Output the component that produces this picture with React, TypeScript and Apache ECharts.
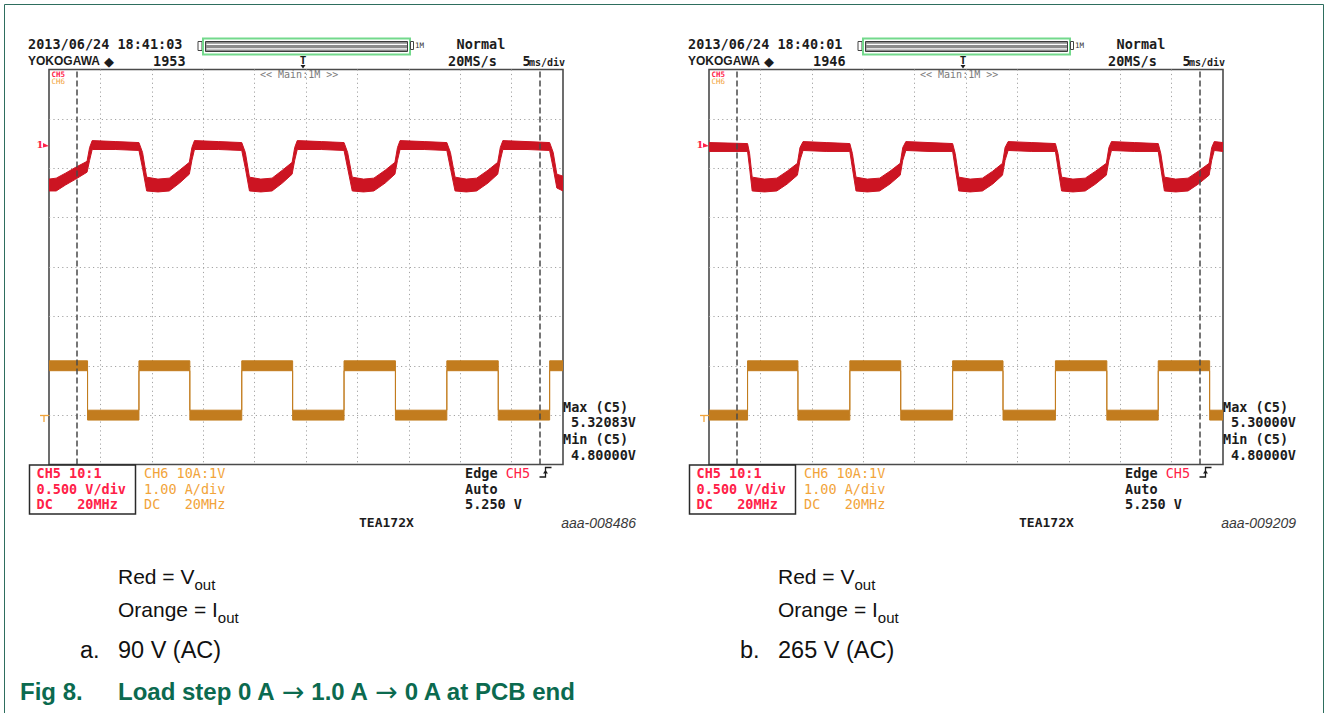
import React, { useEffect, useRef } from "react";
import * as echarts from "echarts";

// ---------------- data ----------------
// time base: 5 ms/div, 10 div
const timeRange = [0, 50];
const timeDiv = 5;
// CH6 (orange, Iout): 1 A/div ; CH5 (red, Vout): 0.5 V/div
const currentRange = [-1, 7];
const currentDiv = 1;
const voltageRange = [2, 6];

// cursor positions (ms)
const cursorTimes = [2.7, 47.75];

// Iout centre line [t ms, A]  (scope a: 90 V AC)
const ioutA = [
  [0, 1.0], [3.75, 1.0], [3.75, 0], [8.75, 0], [8.75, 1.0], [13.7, 1.0], [13.7, 0],
  [18.75, 0], [18.75, 1.0], [23.7, 1.0], [23.7, 0], [28.7, 0], [28.7, 1.0], [33.7, 1.0],
  [33.7, 0], [38.7, 0], [38.7, 1.0], [43.7, 1.0], [43.7, 0], [48.7, 0], [48.7, 1.0], [50, 1.0],
];
// Iout centre line [t ms, A]  (scope b: 265 V AC)
const ioutB = [
  [0, 0], [3.75, 0], [3.75, 1.0], [8.65, 1.0], [8.65, 0], [13.7, 0], [13.7, 1.0],
  [18.65, 1.0], [18.65, 0], [23.7, 0], [23.7, 1.0], [28.6, 1.0], [28.6, 0], [33.7, 0],
  [33.7, 1.0], [38.7, 1.0], [38.7, 0], [43.7, 0], [43.7, 1.0], [48.7, 1.0], [48.7, 0], [50, 0],
];
// noise half-band of the current trace (A)
const ioutNoise = 0.1;

// Vout envelope [t ms, lower V, upper V]  (scope a)
const voutA = [
  [0.0, 4.77, 4.89], [0.7, 4.77, 4.9], [1.6, 4.83, 4.95], [2.6, 4.89, 5.01], [3.7, 4.96, 5.07],
  [3.95, 5.08, 5.21], [4.2, 5.19, 5.28], [6.5, 5.19, 5.27], [8.75, 5.18, 5.26],
  [9.1, 5.0, 5.16], [9.5, 4.77, 4.91], [10.6, 4.76, 4.89], [11.7, 4.77, 4.9], [12.7, 4.85, 4.98],
  [13.65, 4.94, 5.06], [13.9, 5.08, 5.21], [14.15, 5.19, 5.28], [16.5, 5.19, 5.27], [18.75, 5.18, 5.26],
  [19.1, 5.0, 5.16], [19.5, 4.77, 4.91], [20.6, 4.76, 4.89], [21.7, 4.77, 4.9], [22.7, 4.85, 4.98],
  [23.65, 4.94, 5.06], [23.9, 5.08, 5.21], [24.15, 5.19, 5.28], [26.5, 5.19, 5.27], [28.7, 5.18, 5.26],
  [29.05, 5.0, 5.16], [29.5, 4.77, 4.91], [30.6, 4.76, 4.89], [31.6, 4.77, 4.9], [32.7, 4.85, 4.98],
  [33.65, 4.94, 5.06], [33.9, 5.08, 5.21], [34.15, 5.19, 5.28], [36.5, 5.19, 5.27], [38.7, 5.18, 5.26],
  [39.05, 5.0, 5.16], [39.5, 4.77, 4.91], [40.6, 4.76, 4.89], [41.6, 4.77, 4.9], [42.7, 4.85, 4.98],
  [43.65, 4.94, 5.06], [43.9, 5.08, 5.21], [44.15, 5.19, 5.28], [46.5, 5.19, 5.27], [48.7, 5.18, 5.26],
  [49.05, 5.0, 5.16], [49.4, 4.8, 4.94], [50.0, 4.77, 4.92],
];
// Vout envelope [t ms, lower V, upper V]  (scope b)
const voutB = [
  [0.0, 5.17, 5.26], [3.75, 5.17, 5.25], [3.95, 5.0, 5.15], [4.2, 4.77, 4.91], [5.4, 4.76, 4.89],
  [6.6, 4.77, 4.9], [7.6, 4.84, 4.97], [8.6, 4.93, 5.05], [8.85, 5.08, 5.21], [9.15, 5.18, 5.27],
  [11.4, 5.17, 5.26], [13.7, 5.17, 5.25], [13.95, 5.0, 5.15], [14.3, 4.77, 4.91], [15.4, 4.76, 4.89],
  [16.6, 4.77, 4.9], [17.6, 4.84, 4.97], [18.6, 4.93, 5.05], [18.85, 5.08, 5.21], [19.15, 5.18, 5.27],
  [21.4, 5.17, 5.26], [23.7, 5.17, 5.25], [23.95, 5.0, 5.15], [24.3, 4.77, 4.91], [25.4, 4.76, 4.89],
  [26.6, 4.77, 4.9], [27.6, 4.84, 4.97], [28.55, 4.93, 5.05], [28.8, 5.08, 5.21], [29.1, 5.18, 5.27],
  [31.4, 5.17, 5.26], [33.7, 5.17, 5.25], [33.95, 5.0, 5.15], [34.3, 4.77, 4.91], [35.4, 4.76, 4.89],
  [36.6, 4.77, 4.9], [37.6, 4.84, 4.97], [38.65, 4.93, 5.05], [38.9, 5.08, 5.21], [39.15, 5.18, 5.27],
  [41.4, 5.17, 5.26], [43.7, 5.17, 5.25], [43.95, 5.0, 5.15], [44.3, 4.77, 4.91], [45.4, 4.76, 4.89],
  [46.6, 4.77, 4.9], [47.6, 4.84, 4.97], [48.65, 4.93, 5.05], [48.9, 5.08, 5.21], [49.15, 5.18, 5.27],
  [50.0, 5.17, 5.26],
];

// scope texts
const timestamps = ["2013/06/24 18:41:03", "2013/06/24 18:40:01"];
const acqCounts = ["1953", "1946"];
const maxReadings = ["5.32083V", "5.30000V"];
const minReadings = ["4.80000V", "4.80000V"];
const figureIds = ["aaa-008486", "aaa-009209"];
const conditionLetters = ["a.", "b."];
const conditions = ["90 V (AC)", "265 V (AC)"];
const figNumber = "Fig 8.";
const figTitleParts = ["Load step 0 A ", "\u2192", " 1.0 A ", "\u2192", " 0 A at PCB end"];

// ---------------- styling ----------------
const RED_TRACE = "#cc1422";
const ORANGE_TRACE = "#c27c1e";
const RED_TEXT = "#ff2148";
const ORANGE_TEXT = "#f2a43a";
const INK = "#1c1c1c";
const GREEN = "#0b6a4f";
const MONO = '"DejaVu Sans Mono", monospace';
const SANS = '"Liberation Sans", Arial, sans-serif';

const PLOTS = [
  { left: 49, top: 69.5, width: 514, height: 395 },
  { left: 709, top: 69.5, width: 514, height: 395 },
];

function txt(x: number, y: number, text: string, o: any = {}) {
  return {
    type: "text",
    x,
    y,
    z: 20,
    silent: true,
    style: {
      text,
      fill: o.fill || INK,
      fontFamily: o.family || MONO,
      fontSize: o.size || 13.5,
      fontWeight: o.weight || "bold",
      fontStyle: o.style || "normal",
      align: o.align || "left",
      textAlign: o.align || "left",
      verticalAlign: "middle",
      textVerticalAlign: "middle",
      rich: o.rich,
    },
  };
}

function line(x1: number, y1: number, x2: number, y2: number, stroke: string, w = 1) {
  return { type: "line", z: 20, silent: true, shape: { x1, y1, x2, y2 }, style: { stroke, lineWidth: w } };
}

function rect(x: number, y: number, width: number, height: number, style: any) {
  return { type: "rect", z: 20, silent: true, shape: { x, y, width, height }, style };
}

function scopeGraphics(s: number) {
  const dx = s * 660;
  const g: any[] = [];
  // header
  g.push(txt(28 + dx, 43.5, timestamps[s]));
  g.push(txt(28 + dx, 61, "YOKOGAWA", { family: SANS, size: 12 }));
  g.push(txt(104 + dx, 61, "\u25C6", { family: '"DejaVu Sans"', size: 13 }));
  g.push(txt(153 + dx, 61, acqCounts[s]));
  // record-length bar
  g.push(rect(198 + dx, 41.5, 4, 9, { fill: "#fff", stroke: "#444", lineWidth: 1 }));
  g.push(rect(203 + dx, 38.5, 207, 16, { fill: "#fff", stroke: "#73d98c", lineWidth: 2 }));
  g.push(rect(205.5 + dx, 41.5, 202, 10, { fill: "#8c8c8c", stroke: "#3c3c3c", lineWidth: 1 }));
  g.push(line(206.5 + dx, 44.3, 407 + dx, 44.3, "#ffffff", 1.3));
  g.push(line(206.5 + dx, 48.8, 407 + dx, 48.8, "#ffffff", 1.3));
  g.push(rect(410.5 + dx, 41.5, 3, 8, { fill: "#fff", stroke: "#444", lineWidth: 1 }));
  g.push(txt(415 + dx, 45.5, "1M", { size: 7.5, weight: "normal", fill: "#333" }));
  g.push(txt(456.5 + dx, 43.5, "Normal"));
  g.push(txt(448 + dx, 61, "20MS/s"));
  g.push(txt(522.5 + dx, 61, "5"));
  g.push(txt(529 + dx, 62, "ms/div", { size: 10 }));
  // trigger position marker
  g.push(txt(303 + dx, 60, "T", { size: 11, align: "center" }));
  g.push({ type: "polygon", z: 20, silent: true, shape: { points: [[300.5 + dx, 65], [305.5 + dx, 65], [303 + dx, 68.5]] }, style: { fill: INK } });
  g.push(txt(260 + dx, 74.5, "<< Main:1M >>", { size: 10, weight: "normal", fill: "#7a7a7a" }));
  // channel labels inside the screen
  g.push(txt(51.5 + dx, 74.5, "CH5", { size: 7.5, fill: RED_TEXT }));
  g.push(txt(51.5 + dx, 81, "CH6", { size: 7.5, fill: ORANGE_TEXT, weight: "normal" }));
  // CH5 position marker
  g.push(txt(36.5 + dx, 144.5, "1", { size: 10, fill: RED_TEXT, family: '"DejaVu Serif", serif' }));
  g.push({ type: "polygon", z: 20, silent: true, shape: { points: [[43 + dx, 143], [49 + dx, 146], [43 + dx, 147.5]] }, style: { fill: RED_TEXT } });
  // CH6 ground marker
  g.push(line(40 + dx, 415.5, 49 + dx, 415.5, ORANGE_TEXT, 1.3));
  g.push(line(44 + dx, 415.5, 44 + dx, 422, ORANGE_TEXT, 1.3));
  // channel setting boxes
  g.push(rect(29.5 + dx, 465, 106, 49, { fill: "none", stroke: "#2a2a2a", lineWidth: 1.5 }));
  g.push(txt(36.5 + dx, 473, "CH5 10:1", { fill: RED_TEXT }));
  g.push(txt(36.5 + dx, 488.5, "0.500 V/div", { fill: RED_TEXT }));
  g.push(txt(36.5 + dx, 504, "DC   20MHz", { fill: RED_TEXT }));
  g.push(txt(144 + dx, 473, "CH6 10A:1V", { fill: ORANGE_TEXT, weight: "normal" }));
  g.push(txt(144 + dx, 488.5, "1.00 A/div", { fill: ORANGE_TEXT, weight: "normal" }));
  g.push(txt(144 + dx, 504, "DC   20MHz", { fill: ORANGE_TEXT, weight: "normal" }));
  // measurements
  g.push(txt(563 + dx, 407, "Max (C5)"));
  g.push(txt(636 + dx, 422, maxReadings[s], { align: "right" }));
  g.push(txt(563 + dx, 439, "Min (C5)"));
  g.push(txt(636 + dx, 455, minReadings[s], { align: "right" }));
  // trigger
  g.push(txt(465 + dx, 472.5, "{k|Edge }{r|CH5}", {
    rich: {
      k: { fontFamily: MONO, fontSize: 13.5, fontWeight: "bold", fill: INK },
      r: { fontFamily: MONO, fontSize: 13.5, fontWeight: "normal", fill: RED_TEXT },
    },
  }));
  g.push({ type: "polyline", z: 20, silent: true, shape: { points: [[539.5 + dx, 477], [545.5 + dx, 477], [545.5 + dx, 467.5], [551.5 + dx, 467.5]] }, style: { stroke: INK, lineWidth: 1.3, fill: "none" } });
  g.push({ type: "polygon", z: 20, silent: true, shape: { points: [[543 + dx, 473.5], [548 + dx, 473.5], [545.5 + dx, 470]] }, style: { fill: INK } });
  g.push(txt(465 + dx, 488.5, "Auto"));
  g.push(txt(465 + dx, 504, "5.250 V"));
  g.push(txt(359 + dx, 522, "TEA172X", { size: 13 }));
  g.push(txt(636 + dx, 522.5, figureIds[s], { family: SANS, size: 14, weight: "normal", style: "italic", fill: "#3a3a3a", align: "right" }));
  // captions
  const cx = 118 + dx;
  const subRich = {
    b: { fontFamily: SANS, fontSize: 21, fill: "#111", lineHeight: 31, verticalAlign: "middle" },
    s: { fontFamily: SANS, fontSize: 15, fill: "#111", lineHeight: 31, verticalAlign: "bottom" },
  };
  g.push(txt(cx, 576, "{b|Red = V}{s|out}", { rich: subRich, family: SANS, weight: "normal" }));
  g.push(txt(cx, 609, "{b|Orange = I}{s|out}", { rich: subRich, family: SANS, weight: "normal" }));
  g.push(txt(80 + dx, 650, conditionLetters[s], { family: SANS, size: 23.5, weight: "normal", fill: "#111" }));
  g.push(txt(cx, 650, conditions[s], { family: SANS, size: 23.5, weight: "normal", fill: "#111" }));
  return g;
}

function bandSeries(points: number[][], gridIndex: number, yAxisIndex: number, color: string, extra: any = {}) {
  return {
    type: "custom",
    coordinateSystem: "cartesian2d",
    xAxisIndex: gridIndex,
    yAxisIndex,
    silent: true,
    clip: true,
    data: [[points[0][0], points[0][1]]],
    renderItem: (_params: any, api: any) => {
      const upper = points.map((p) => api.coord([p[0], p[2]]));
      const lower = points.slice().reverse().map((p) => api.coord([p[0], p[1]]));
      return {
        type: "polygon",
        shape: { points: upper.concat(lower) },
        style: { fill: color, stroke: color, lineWidth: 1 },
      };
    },
    ...extra,
  };
}

export default function App() {
  const ref = useRef<HTMLDivElement>(null);
  useEffect(() => {
    if (!ref.current) return;
    const chart = echarts.init(ref.current, null, { renderer: "svg" });

    const grids = PLOTS.map((p) => ({
      left: p.left,
      top: p.top,
      width: p.width,
      height: p.height,
      show: true,
      borderColor: "#4a4a4a",
      borderWidth: 1.6,
      backgroundColor: "transparent",
    }));
    const dotted = { color: "#a3a3a3", type: [1.2, 3.2], width: 1 };
    const xAxes = PLOTS.map((_, i) => ({
      type: "value",
      gridIndex: i,
      min: timeRange[0],
      max: timeRange[1],
      interval: timeDiv,
      axisLine: { show: false },
      axisTick: { show: false },
      axisLabel: { show: false },
      splitLine: { show: true, showMinLine: false, showMaxLine: false, lineStyle: dotted },
    }));
    const yAxes: any[] = [];
    PLOTS.forEach((_, i) => {
      yAxes.push({
        type: "value",
        gridIndex: i,
        min: currentRange[0],
        max: currentRange[1],
        interval: currentDiv,
        axisLine: { show: false },
        axisTick: { show: false },
        axisLabel: { show: false },
        splitLine: { show: true, showMinLine: false, showMaxLine: false, lineStyle: dotted },
      });
      yAxes.push({
        type: "value",
        gridIndex: i,
        min: voltageRange[0],
        max: voltageRange[1],
        axisLine: { show: false },
        axisTick: { show: false },
        axisLabel: { show: false },
        splitLine: { show: false },
      });
    });

    const iouts = [ioutA, ioutB];
    const vouts = [voutA, voutB];
    const series: any[] = [];
    PLOTS.forEach((_, i) => {
      const iBand = iouts[i].map((p) => [p[0], p[1] - ioutNoise, p[1] + ioutNoise]);
      series.push(bandSeries(iBand, i, 2 * i, ORANGE_TRACE, {
        markLine: {
          silent: true,
          symbol: "none",
          z: 10,
          label: { show: false },
          lineStyle: { color: "#4a4a4a", type: [6, 3], width: 1.5 },
          data: cursorTimes.map((t) => ({ xAxis: t })),
        },
      }));
      series.push(bandSeries(vouts[i], i, 2 * i + 1, RED_TRACE));
    });

    const titleRich = {
      t: { fontFamily: SANS, fontSize: 24, fontWeight: "bold", fill: GREEN, verticalAlign: "middle", lineHeight: 30 },
      a: { fontFamily: '"DejaVu Sans"', fontSize: 27, fontWeight: "normal", fill: GREEN, verticalAlign: "middle", lineHeight: 30 },
    };
    const titleText = figTitleParts.map((p, i) => (i % 2 === 1 ? `{a|${p}}` : `{t|${p}}`)).join("");

    const graphic: any[] = [
      rect(4.5, 4.5, 1319, 720, { fill: "none", stroke: "#2e6e5e", lineWidth: 1 }),
      ...scopeGraphics(0),
      ...scopeGraphics(1),
      txt(20, 691, figNumber, { family: SANS, size: 24, weight: "bold", fill: GREEN }),
      txt(118, 691, titleText, { family: SANS, size: 24, weight: "bold", fill: GREEN, rich: titleRich }),
    ];

    chart.setOption({
      animation: false,
      backgroundColor: "#ffffff",
      grid: grids,
      xAxis: xAxes,
      yAxis: yAxes,
      series,
      graphic: { elements: graphic },
    });
    return () => chart.dispose();
  }, []);
  return <div ref={ref} style={{ position: "absolute", left: 0, top: 0, width: 1328, height: 713 }} />;
}
